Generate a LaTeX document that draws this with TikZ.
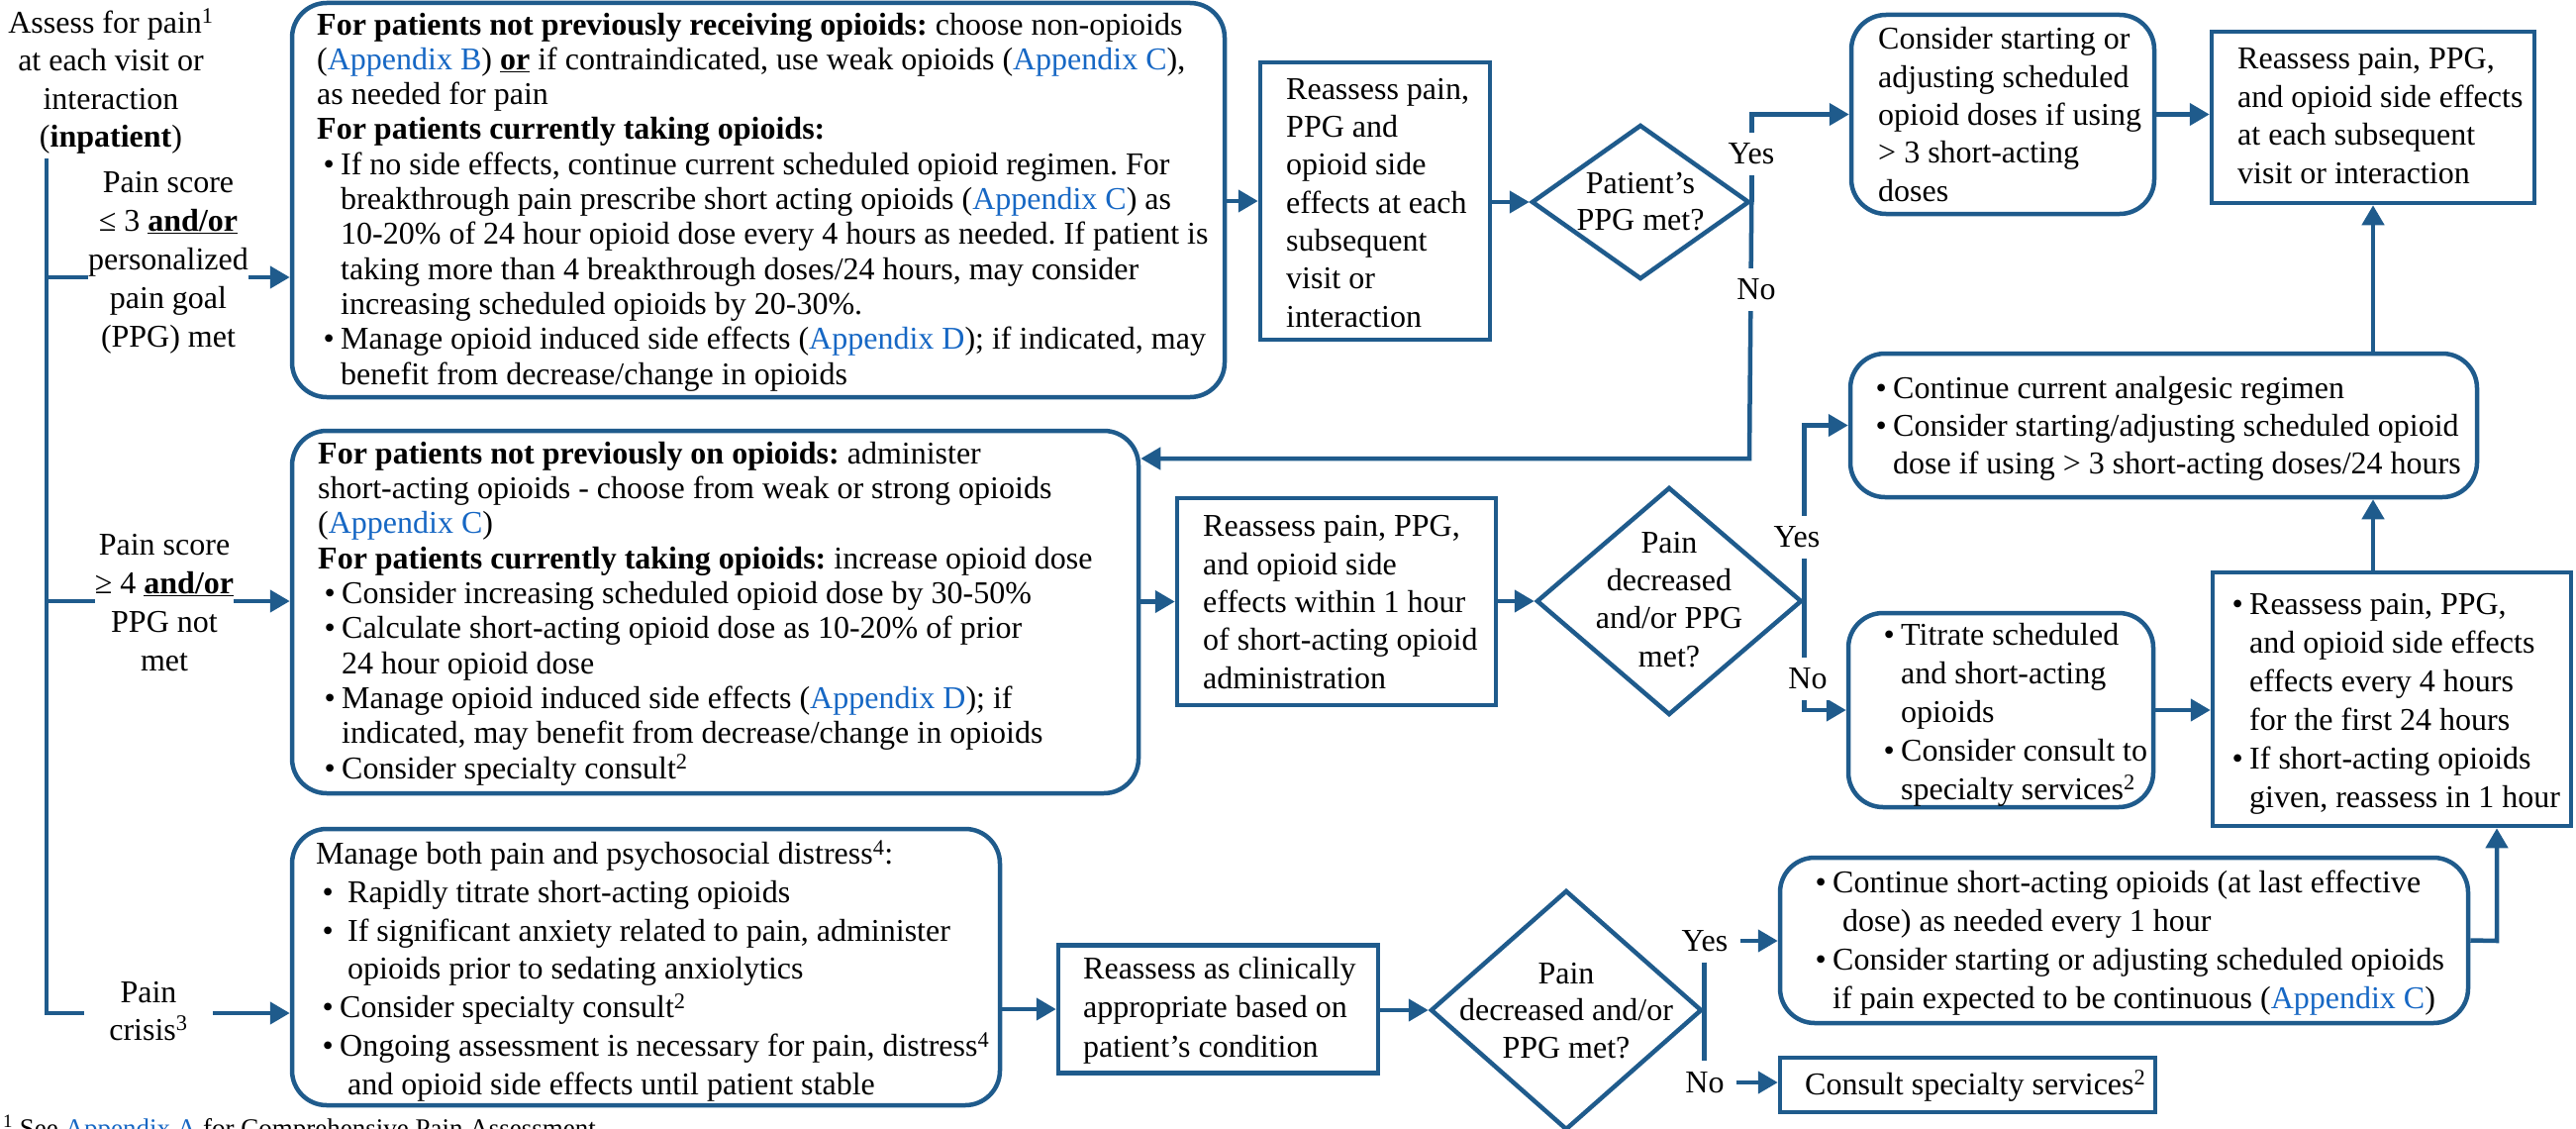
\documentclass[tikz,border=0pt]{standalone}
\usepackage{fontspec}
\setmainfont{Liberation Serif}
\usetikzlibrary{arrows.meta,shapes.geometric}
\definecolor{lineblue}{RGB}{31,91,140}
\definecolor{linkblue}{RGB}{22,103,196}
\newcommand\lk[1]{\textcolor{linkblue}{#1}}
\newcommand\bulx{\makebox[24pt][c]{\textbullet}}
\newcommand\indx{\hspace*{24pt}}
\frenchspacing
\begin{document}
\begin{tikzpicture}[x=1pt,y=-1pt,
  box/.style={draw=lineblue, line width=4.5pt, inner sep=0pt, minimum width=#1},
  rbox/.style={box=#1, rounded corners=35pt},
  dia/.style={diamond, draw=lineblue, line width=4.5pt, inner sep=0pt},
  tx/.style={anchor=base west, inner sep=0pt, align=left, font=\fontsize{32}{#1}\selectfont},
  tc/.style={anchor=base, inner sep=0pt, align=center, font=\fontsize{32}{#1}\selectfont},
  yn/.style={fill=white, inner xsep=12pt, inner ysep=11pt, text height=21pt, text depth=0pt, font=\fontsize{32}{35}\selectfont},
  ln/.style={draw=lineblue, line width=4.5pt},
  arr/.style={draw=lineblue, line width=4.5pt, -{Triangle[length=20pt,width=22pt]}}
]
\useasboundingbox (0,0) rectangle (2602,1140);
\clip (0,0) rectangle (2602,1140);

% ---------- boxes ----------
\node[rbox=942pt, minimum height=398pt] (B1) at (766,202) {};
\node[box=232pt, minimum height=280pt] (B2) at (1389,203) {};
\node[dia, minimum width=220pt, minimum height=156pt] (D1) at (1657,204) {};
\node[rbox=306pt, minimum height=201pt] (CB) at (2023,115.5) {};
\node[box=326pt, minimum height=173pt] (R1) at (2397,118.5) {};
\node[rbox=855pt, minimum height=366pt] (M) at (722.5,618) {};
\node[box=322pt, minimum height=209pt] (B3) at (1350,607.5) {};
\node[dia, minimum width=268pt, minimum height=230pt] (D2) at (1686,607) {};
\node[rbox=633pt, minimum height=145pt] (C1) at (2185.5,429.5) {};
\node[rbox=308pt, minimum height=196pt] (T) at (2021,717) {};
\node[box=362pt, minimum height=256pt] (R2) at (2416,706) {};
\node[rbox=715pt, minimum height=279pt] (CR) at (652.5,976.5) {};
\node[box=323pt, minimum height=129pt] (RC) at (1230.5,1019) {};
\node[dia, minimum width=274pt, minimum height=242pt] (D3) at (1582,1020) {};
\node[rbox=695pt, minimum height=167pt] (CS) at (2145.5,949.5) {};
\node[box=379pt, minimum height=55pt] (CO) at (1987.5,1095.5) {};

% ---------- texts (anchored at the baseline of their last line) ----------
\node[tc=38.5] (A) at (112,148.5) {Assess for pain\textsuperscript{1}\\ at each visit or\\ interaction\\ (\textbf{inpatient})};
\node[tc=38.8] (L1) at (170,350) {Pain score\\ ≤ 3 \textbf{\underline{and/or}}\\ personalized\\ pain goal\\ (PPG) met};
\node[tc=39] (L2) at (166,677) {Pain score\\ ≥ 4 \textbf{\underline{and/or}}\\ PPG not\\ met};
\node[tc=38, inner xsep=25pt] (L3) at (150,1050) {Pain\\ crisis\textsuperscript{3}};

\node[tx=35.3] (tB1) at (320,388) {\textbf{For patients not previously receiving opioids:} choose non-opioids\\
(\lk{Appendix B}) \textbf{\underline{or}} if contraindicated, use weak opioids (\lk{Appendix C}),\\
as needed for pain\\
\textbf{For patients currently taking opioids:}\\
\bulx If no side effects, continue current scheduled opioid regimen. For\\
\indx breakthrough pain prescribe short acting opioids (\lk{Appendix C}) as\\
\indx 10-20\% of 24 hour opioid dose every 4 hours as needed. If patient is\\
\indx taking more than 4 breakthrough doses/24 hours, may consider\\
\indx increasing scheduled opioids by 20-30\%.\\
\bulx Manage opioid induced side effects (\lk{Appendix D}); if indicated, may\\
\indx benefit from decrease/change in opioids};

\node[tx=38.3] (tB2) at (1299,330) {Reassess pain,\\ PPG and\\ opioid side\\ effects at each\\ subsequent\\ visit or\\ interaction};
\node[tc=37] (tD1) at (1657,232) {Patient’s\\ PPG met?};
\node[tx=38.3] (tCB) at (1897,203) {Consider starting or\\ adjusting scheduled\\ opioid doses if using\\ > 3 short-acting\\ doses};
\node[tx=38.4] (tR1) at (2260,185) {Reassess pain, PPG,\\ and opioid side effects\\ at each subsequent\\ visit or interaction};

\node[tx=35.3] (tM) at (321,786) {\textbf{For patients not previously on opioids:} administer\\
short-acting opioids - choose from weak or strong opioids\\
(\lk{Appendix C})\\
\textbf{For patients currently taking opioids:} increase opioid dose\\
\bulx Consider increasing scheduled opioid dose by 30-50\%\\
\bulx Calculate short-acting opioid dose as 10-20\% of prior\\
\indx 24 hour opioid dose\\
\bulx Manage opioid induced side effects (\lk{Appendix D}); if\\
\indx indicated, may benefit from decrease/change in opioids\\
\bulx Consider specialty consult\textsuperscript{2}};

\node[tx=38.3] (tB3) at (1215,695) {Reassess pain, PPG,\\ and opioid side\\ effects within 1 hour\\ of short-acting opioid\\ administration};
\node[tc=38.3] (tD2) at (1686,673) {Pain\\ decreased\\ and/or PPG\\ met?};
\node[tx=38] (tC1) at (1888,478) {\bulx Continue current analgesic regimen\\ \bulx Consider starting/adjusting scheduled opioid\\ \indx dose if using > 3 short-acting doses/24 hours};
\node[tx=38.8] (tT) at (1896,807) {\bulx Titrate scheduled\\ \indx and short-acting\\ \indx opioids\\ \bulx Consider consult to\\ \indx specialty services\textsuperscript{2}};
\node[tx=39] (tR2) at (2248,815) {\bulx Reassess pain, PPG,\\ \indx and opioid side effects\\ \indx effects every 4 hours\\ \indx for the first 24 hours\\ \bulx If short-acting opioids\\ \indx given, reassess in 1 hour};

\node[tx=38.7] (tCR) at (319,1105) {Manage both pain and psychosocial distress\textsuperscript{4}:\\
\bulx\hspace*{8pt}Rapidly titrate short-acting opioids\\
\bulx\hspace*{8pt}If significant anxiety related to pain, administer\\
\indx\hspace*{8pt}opioids prior to sedating anxiolytics\\
\bulx Consider specialty consult\textsuperscript{2}\\
\bulx Ongoing assessment is necessary for pain, distress\textsuperscript{4}\\
\indx\hspace*{8pt}and opioid side effects until patient stable};
\node[tx=39.5] (tRC) at (1094,1067) {Reassess as clinically\\ appropriate based on\\ patient’s condition};
\node[tc=37.5] (tD3) at (1582,1068) {Pain\\ decreased and/or\\ PPG met?};
\node[tx=38.7] (tCS) at (1827,1018) {\bulx Continue short-acting opioids (at last effective\\ \indx\hspace*{10pt}dose) as needed every 1 hour\\ \bulx Consider starting or adjusting scheduled opioids\\ \indx if pain expected to be continuous (\lk{Appendix C})};
\node[tx=35] (tCO) at (1823,1105) {Consult specialty services\textsuperscript{2}};

\node[anchor=base west, inner sep=0pt, font=\fontsize{27}{30}\selectfont] (fn) at (3,1148) {\textsuperscript{1} See \lk{Appendix A} for Comprehensive Pain Assessment};

% ---------- left trunk ----------
\coordinate (top) at (47,160);
\coordinate (j1) at (47,280);
\coordinate (j2) at (47,607);
\coordinate (j3) at (47,1023);
\draw[ln] (top) -- (j3) -- (j3 -| L3.west);
\draw[ln] (j1) -- (j1 -| L1.west);
\draw[ln] (j2) -- (j2 -| L2.west);
\draw[arr] (j1 -| L1.east) -- (j1 -| B1.west);
\draw[arr] (j2 -| L2.east) -- (j2 -| M.west);
\draw[arr] (j3 -| L3.east) -- (j3 -| CR.west);

% ---------- top row ----------
\draw[arr] (B1.east |- B2.west) -- (B2.west);
\draw[arr] (B2.east |- D1.west) -- (D1.west);
\draw[arr] (D1.east) |- (CB.west);
\coordinate (n1) at (1767,463);
\draw[arr] (D1.east) -- (n1) -- (n1 -| M.east);
\draw[arr] (CB.east) -- (CB.east -| R1.west);

% ---------- middle row ----------
\draw[arr] (M.east |- B3.west) -- (B3.west);
\draw[arr] (B3.east |- D2.west) -- (D2.west);
\draw[arr] (D2.east) |- (C1.west);
\draw[arr] (D2.east) |- (T.west);
\draw[arr] (T.east) -- (T.east -| R2.west);
\draw[arr] (R2.north -| R1.south) -- (C1.south -| R1.south);
\draw[arr] (C1.north -| R1.south) -- (R1.south);

% ---------- bottom row ----------
\draw[arr] (CR.east |- RC.west) -- (RC.west);
\draw[arr] (RC.east |- D3.west) -- (D3.west);
\node[yn] (y3) at (1722,950) {Yes};
\node[yn] (n3) at (1722,1093) {No};
\draw[ln] (D3.east |- y3.south) -- (D3.east |- n3.north);
\draw[arr] (y3.east) -- (y3.east -| CS.west);
\draw[arr] (n3.east) -- (n3.east -| CO.west);
\coordinate (rx) at (2522,950);
\draw[arr] (CS.east) -- (rx) -- (rx |- R2.south);

% ---------- yes/no labels on lines ----------
\node[yn] (y1) at (1769,155) {Yes};
\node[yn] (no1) at (1774,292) {No};
\node[yn] (y2) at (1815,542) {Yes};
\node[yn] (no2) at (1826,685) {No};
\end{tikzpicture}
\end{document}
